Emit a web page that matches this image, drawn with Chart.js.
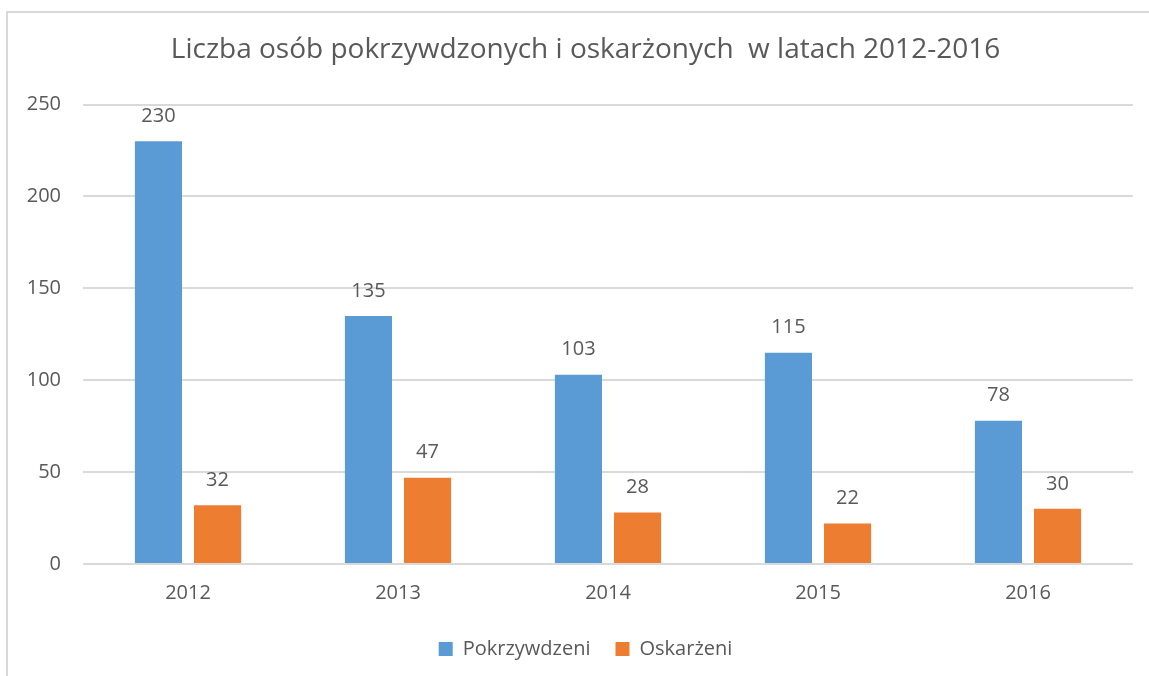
<!DOCTYPE html>
<html>
<head>
<meta charset="utf-8">
<script src="https://cdn.jsdelivr.net/npm/chart.js@4/dist/chart.umd.min.js"></script>
<style>
  html, body { margin: 0; padding: 0; background: #fff; }
  #wrap { position: absolute; left: 0; top: 0; width: 1149px; height: 676px; }
</style>
</head>
<body>
<div id="wrap"><canvas id="myChart"></canvas></div>
<script>
// data
const years = ['2012', '2013', '2014', '2015', '2016'];
const pokrzywdzeni = [230, 135, 103, 115, 78];
const oskarzeni = [32, 47, 28, 22, 30];
const yTicks = [0, 50, 100, 150, 200, 250];

const FONT = 'Open Sans';
const TEXT = '#595959';

// outer frame of the chart (runs off the right and bottom edge)
const framePlugin = {
  id: 'frame',
  beforeDraw: function(chart) {
    const ctx = chart.ctx;
    ctx.save();
    ctx.fillStyle = '#fff';
    ctx.fillRect(0, 0, chart.width, chart.height);
    ctx.strokeStyle = '#d9d9d9';
    ctx.lineWidth = 2;
    ctx.beginPath();
    ctx.moveTo(7, chart.height + 5);
    ctx.lineTo(7, 12);
    ctx.lineTo(chart.width + 5, 12);
    ctx.stroke();
    ctx.restore();
  },
  // widen the y axis box to the left so its labels are not clipped
  afterLayout: function(chart) {
    chart.scales.y.left = 0;
  }
};

// value labels above every bar
const valueLabels = {
  id: 'valueLabels',
  afterDatasetsDraw: function(chart) {
    const ctx = chart.ctx;
    ctx.save();
    ctx.font = '20px "' + FONT + '"';
    ctx.fillStyle = TEXT;
    ctx.textAlign = 'center';
    ctx.textBaseline = 'bottom';
    chart.data.datasets.forEach((ds, i) => {
      chart.getDatasetMeta(i).data.forEach((bar, j) => {
        ctx.fillText(ds.data[j], bar.x, bar.y - 15);
      });
    });
    ctx.restore();
  }
};

const config = {
  type: 'bar',
  data: {
    labels: years,
    datasets: [{
      label: 'Pokrzywdzeni',
      data: pokrzywdzeni,
      backgroundColor: '#5b9bd5'
    }, {
      label: 'Oskarżeni',
      data: oskarzeni,
      backgroundColor: '#ed7d31'
    }]
  },
  options: {
    responsive: true,
    maintainAspectRatio: false,
    animation: false,
    categoryPercentage: 0.563,
    barPercentage: 0.797,
    // left padding pushes title and legend to the frame's centre
    layout: { padding: { left: 38, right: 16, top: 0, bottom: 7 } },
    plugins: {
      title: {
        display: true,
        text: 'Liczba osób pokrzywdzonych i oskarżonych  w latach 2012-2016',
        color: TEXT,
        font: { family: FONT, size: 28, weight: 'normal' },
        padding: { top: 33, bottom: 38 }
      },
      legend: {
        position: 'bottom',
        labels: {
          color: TEXT,
          font: { family: FONT, size: 20 },
          boxWidth: 14,
          boxHeight: 14,
          padding: 25
        }
      },
      tooltip: { enabled: false }
    },
    scales: {
      x: {
        grid: { display: false },
        border: { display: false },
        ticks: { color: TEXT, font: { family: FONT, size: 20 }, padding: 9 }
      },
      y: {
        min: 0,
        max: 250,
        afterBuildTicks: function(axis) {
          axis.ticks = yTicks.map(v => ({ value: v }));
        },
        afterFit: function(axis) { axis.width = 45; },
        grid: { color: '#d9d9d9', lineWidth: 2, drawTicks: false },
        border: { display: false },
        ticks: { color: TEXT, font: { family: FONT, size: 20 }, padding: 22 }
      }
    }
  },
  plugins: [framePlugin, valueLabels]
};

new Chart(document.getElementById('myChart'), config);
</script>
</body>
</html>
